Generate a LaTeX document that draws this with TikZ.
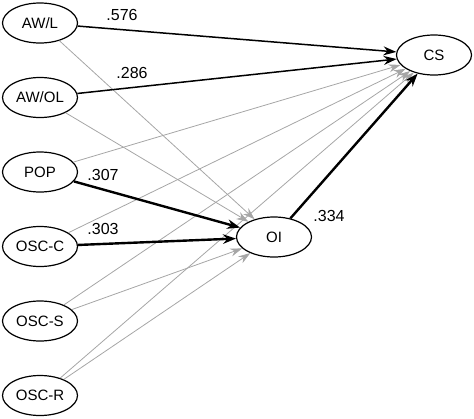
\documentclass[tikz,border=0pt]{standalone}
\usepackage{fontspec}
\setmainfont{Liberation Sans}
\usetikzlibrary{shapes.geometric, arrows.meta}
\begin{document}
\begin{tikzpicture}[x=1pt,y=-1pt,
  var/.style={ellipse, draw, line width=1.2pt, minimum width=75pt, minimum height=40pt, inner sep=0pt, font=\fontsize{15}{17}\selectfont},
  weak/.style={draw=black!35, line width=0.8pt, -{Stealth[length=12pt,width=8pt]}},
  mid/.style={draw=black, line width=1.5pt, -{Stealth[length=13pt,width=9pt]}},
  strong/.style={draw=black, line width=2.4pt, -{Stealth[length=13pt,width=9.5pt]}},
  lab/.style={inner sep=0pt, font=\fontsize{16}{18}\selectfont}]
\useasboundingbox (0,0) rectangle (474,418);
\node[var] (awl)  at (40,23)    {AW/L};
\node[var] (awol) at (40,97.5)  {AW/OL};
\node[var] (pop)  at (40,172)   {POP};
\node[var] (oscc) at (40,246.5) {OSC-C};
\node[var] (oscs) at (40,321)   {OSC-S};
\node[var] (oscr) at (40,395.5) {OSC-R};
\node[var] (cs)   at (434,55)   {CS};
\node[var] (oi)   at (274,237)  {OI};
% weak paths
\draw[weak] (awl) -- (oi);
\draw[weak] (awol) -- (oi);
\draw[weak] (oscs) -- (oi);
\draw[weak] (oscr) -- (oi);
\draw[weak] (pop) -- (cs);
\draw[weak] (oscc) -- (cs);
\draw[weak] (oscs) -- (cs);
\draw[weak] (oscr) -- (cs);
% significant paths
\draw[mid] (awl) -- (cs);
\draw[mid] (awol) -- (cs);
\draw[strong] (pop) -- (oi);
\draw[strong] (oscc) -- (oi);
\draw[strong] (oi) -- (cs);
% labels
\node[lab] (l576) at (122,15)  {.576};
\node[lab] (l286) at (132,73)  {.286};
\node[lab] (l307) at (103,175) {.307};
\node[lab] (l303) at (103,229) {.303};
\node[lab] (l334) at (329,216) {.334};
\end{tikzpicture}
\end{document}
